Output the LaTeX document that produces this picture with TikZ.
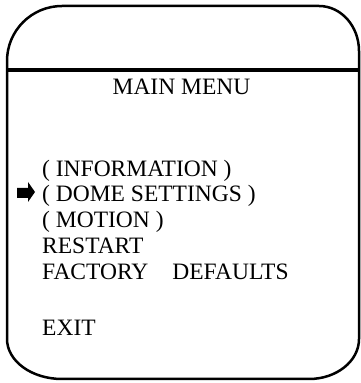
\documentclass[tikz,border=0pt]{standalone}
\usepackage{fontspec}
\setmainfont{Liberation Serif}
\usetikzlibrary{positioning}

\begin{document}
\begin{tikzpicture}[x=1pt, y=1pt,
		menuitem/.style={anchor=base west, inner sep=0pt, font=\fontsize{23.5}{28}\selectfont},
		menutitle/.style={anchor=base, inner sep=0pt, font=\fontsize{23.5}{28}\selectfont}]
		\def\LEFT{7}
		\def\RIGHT{359}
		\useasboundingbox (0,0) rectangle (360,383);
		% screen frame
		\draw[line width=2.5pt] (\LEFT,322) arc[start angle=180, end angle=90, x radius=55, y radius=55]
			-- (319,377) arc[start angle=90, end angle=0, x radius=40, y radius=45]
			-- (\RIGHT,44) arc[start angle=0, end angle=-90, x radius=50, y radius=40]
			-- (62,4) arc[start angle=270, end angle=180, x radius=55, y radius=40]
			-- cycle;
		\coordinate (divl) at (\LEFT,313);
		\coordinate (divr) at (360,313);
		\draw[line width=3.5pt] (divl) -- (divr);
		\node[menutitle] (title) at (181.5,288) {MAIN MENU};
		% menu entries
		\foreach \name/\txt/\y in {info/( INFORMATION )/206, dome/( DOME SETTINGS )/181,
			motion/( MOTION )/155, restart/RESTART/129, factory/FACTORY\hspace{24pt}DEFAULTS/103, exit/EXIT/47} {
			\node[menuitem] (\name) at (42,\y) {\txt};
		}
		% cursor
		\fill (17,195) -- (28,195) -- (28,201) -- (35,191) -- (28,181) -- (28,185) -- (17,185) -- cycle;
	\end{tikzpicture}
\end{document}
